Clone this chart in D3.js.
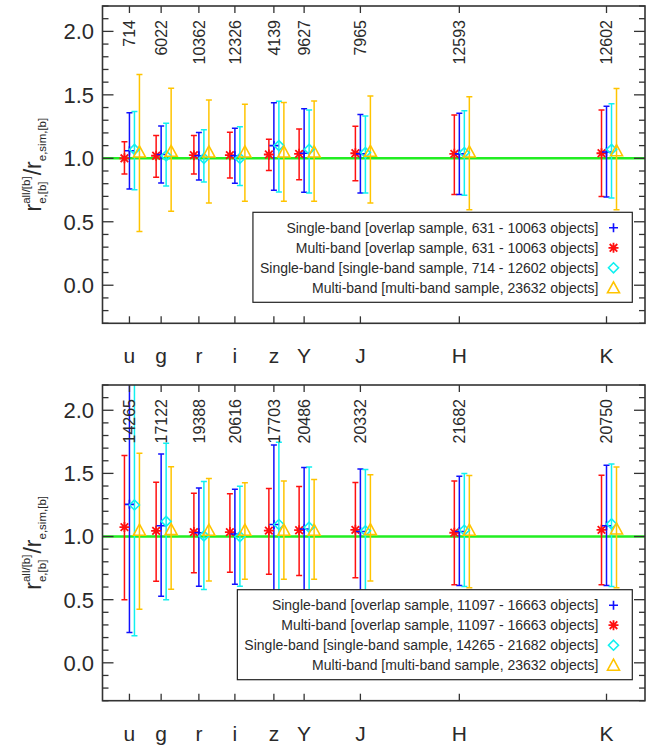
<!DOCTYPE html>
<html><head><meta charset="utf-8">
<script src="https://cdn.jsdelivr.net/npm/d3@7"></script>
<style>
html,body{margin:0;padding:0;background:#fff;}
svg text{font-family:"Liberation Sans",Arial,Helvetica,sans-serif;fill:#2a2a2a;}
</style></head>
<body><svg id="c" width="649" height="748"></svg>
<script>
// ---------- data ----------
const bands = ["u","g","r","i","z","Y","J","H","K"];
const wavelengths = [0.3543,0.4770,0.6231,0.7625,0.9134,1.0305,1.2483,1.6313,2.2010];
const yTickLabels = ["0.0","0.5","1.0","1.5","2.0"];
const yTickValues = [0,0.5,1.0,1.5,2.0];

const countsTop = ["714","6022","10362","12326","4139","9627","7965","12593","12602"];
const countsBot = ["14265","17122","19388","20616","17703","20486","20332","21682","20750"];

// top panel
const singleOverlapTop    = [1.06,1.03,1.02,1.02,1.10,1.04,1.035,1.035,1.05];
const singleOverlapTopLo  = [0.759,0.806,0.83,0.803,0.748,0.732,0.727,0.714,0.695];
const singleOverlapTopHi  = [1.358,1.255,1.203,1.237,1.437,1.39,1.345,1.355,1.41];
const multiOverlapTop     = [1.00,1.02,1.025,1.025,1.03,1.035,1.04,1.035,1.04];
const multiOverlapTopLo   = [0.877,0.85,0.877,0.845,0.903,0.832,0.824,0.714,0.70];
const multiOverlapTopHi   = [1.13,1.18,1.18,1.205,1.15,1.23,1.253,1.342,1.38];
const singleSampleTop     = [1.07,1.02,1.0,1.0,1.10,1.07,1.045,1.045,1.07];
const singleSampleTopLo   = [0.753,0.782,0.814,0.785,0.735,0.727,0.727,0.708,0.688];
const singleSampleTopHi   = [1.368,1.276,1.224,1.248,1.45,1.38,1.334,1.374,1.43];
const multiSample         = [1.05,1.055,1.05,1.05,1.05,1.05,1.055,1.05,1.06];
const multiSampleLo       = [0.424,0.582,0.648,0.661,0.661,0.661,0.648,0.595,0.595];
const multiSampleHi       = [1.66,1.552,1.46,1.426,1.44,1.452,1.49,1.484,1.55];

// bottom panel
const singleOverlapBot    = [1.255,1.085,1.03,1.02,1.095,1.06,1.04,1.04,1.085];
const singleOverlapBotLo  = [0.24,0.528,0.607,0.623,0.465,0.573,0.538,0.612,0.612];
const singleOverlapBotHi  = [2.35,1.654,1.385,1.374,1.725,1.546,1.535,1.477,1.564];
const multiOverlapBot     = [1.075,1.045,1.035,1.035,1.047,1.05,1.053,1.03,1.053];
const multiOverlapBotLo   = [0.5,0.646,0.713,0.718,0.702,0.691,0.673,0.618,0.618];
const multiOverlapBotHi   = [1.641,1.43,1.343,1.338,1.38,1.396,1.427,1.44,1.485];
const singleSampleBot     = [1.25,1.12,1.005,1.0,1.095,1.074,1.045,1.05,1.10];
const singleSampleBotLo   = [0.214,0.499,0.58,0.607,0.449,0.565,0.533,0.604,0.604];
const singleSampleBotHi   = [2.35,1.738,1.435,1.398,1.746,1.551,1.53,1.50,1.575];

const legendTop = ["Single-band [overlap sample, 631 - 10063 objects]",
                   "Multi-band [overlap sample, 631 - 10063 objects]",
                   "Single-band [single-band sample, 714 - 12602 objects]",
                   "Multi-band [multi-band sample, 23632 objects]"];
const legendBot = ["Single-band [overlap sample, 11097 - 16663 objects]",
                   "Multi-band [overlap sample, 11097 - 16663 objects]",
                   "Single-band [single-band sample, 14265 - 21682 objects]",
                   "Multi-band [multi-band sample, 23632 objects]"];

// ---------- styling ----------
const COLORS = {blue:"#1010ff", red:"#ff1010", cyan:"#10f0f0", gold:"#ffc400"};
const svg = d3.select("#c");
const xL = 102.5, xR = 645;
const x = d3.scaleLinear().domain([0.25,2.35]).range([xL,xR]);
const panels = [
  {top:6, bottom:323.3, counts:countsTop, legend:legendTop,
   series:[
    {key:"red",  sym:"star",  dx:-5, v:multiOverlapTop,  lo:multiOverlapTopLo,  hi:multiOverlapTopHi},
    {key:"blue", sym:"plus",  dx:0,  v:singleOverlapTop, lo:singleOverlapTopLo, hi:singleOverlapTopHi},
    {key:"cyan", sym:"diamond",dx:5, v:singleSampleTop,  lo:singleSampleTopLo,  hi:singleSampleTopHi},
    {key:"gold", sym:"tri",   dx:10, v:multiSample,      lo:multiSampleLo,      hi:multiSampleHi}]},
  {top:385, bottom:700.7, counts:countsBot, legend:legendBot,
   series:[
    {key:"red",  sym:"star",  dx:-5, v:multiOverlapBot,  lo:multiOverlapBotLo,  hi:multiOverlapBotHi},
    {key:"blue", sym:"plus",  dx:0,  v:singleOverlapBot, lo:singleOverlapBotLo, hi:singleOverlapBotHi},
    {key:"cyan", sym:"diamond",dx:5, v:singleSampleBot,  lo:singleSampleBotLo,  hi:singleSampleBotHi},
    {key:"gold", sym:"tri",   dx:10, v:multiSample,      lo:multiSampleLo,      hi:multiSampleHi}]}
];

function drawSymbol(g, sym, cx, cy, color){
  const s = g.append("g").attr("transform",`translate(${cx},${cy})`)
    .attr("fill","none").attr("stroke",color).attr("stroke-width",1.6);
  if(sym==="plus"){
    s.append("path").attr("d","M-4.5,0H4.5M0,-4.5V4.5");
  } else if(sym==="star"){
    s.append("path").attr("d","M0,-5V5M-5,0H5M-3.8,-3.8L3.8,3.8M-3.8,3.8L3.8,-3.8").attr("stroke-width",1.8);
  } else if(sym==="diamond"){
    s.append("path").attr("d","M0,-5L5,0L0,5L-5,0Z");
  } else if(sym==="tri"){
    s.append("path").attr("d","M0,-6L6,5H-6Z");
  }
}

panels.forEach((p,pi)=>{
  const y = d3.scaleLinear().domain([-0.3,2.2]).range([p.bottom,p.top]);
  const g = svg.append("g");
  const clipId = "clip"+pi;
  svg.append("clipPath").attr("id",clipId).append("rect")
    .attr("x",xL).attr("y",p.top).attr("width",xR-xL).attr("height",p.bottom-p.top);

  // reference line
  g.append("line").attr("x1",xL).attr("x2",xR).attr("y1",y(1)).attr("y2",y(1))
    .attr("stroke","#22ee22").attr("stroke-width",2.4);

  // error bars + symbols
  const data = g.append("g").attr("clip-path",`url(#${clipId})`);
  p.series.forEach(s=>{
    const col = COLORS[s.key];
    wavelengths.forEach((w,i)=>{
      const cx = x(w)+s.dx;
      const eb = data.append("g").attr("stroke",col).attr("stroke-width",1.5);
      eb.append("line").attr("x1",cx).attr("x2",cx).attr("y1",y(s.lo[i])).attr("y2",y(s.hi[i]));
      eb.append("line").attr("x1",cx-3).attr("x2",cx+3).attr("y1",y(s.lo[i])).attr("y2",y(s.lo[i]));
      eb.append("line").attr("x1",cx-3).attr("x2",cx+3).attr("y1",y(s.hi[i])).attr("y2",y(s.hi[i]));
    });
  });
  p.series.forEach(s=>{
    const col = COLORS[s.key];
    wavelengths.forEach((w,i)=>{ drawSymbol(data, s.sym, x(w)+s.dx, y(s.v[i]), col); });
  });

  // axes frame
  const axisCol = "#333";
  g.append("rect").attr("x",xL).attr("y",p.top).attr("width",xR-xL).attr("height",p.bottom-p.top)
    .attr("fill","none").attr("stroke",axisCol).attr("stroke-width",1.6);

  // y ticks left/right
  const minor = d3.range(-3,23).map(d=>d/10);
  minor.forEach(v=>{
    const isMajor = Math.abs(v*2-Math.round(v*2))<1e-6;
    const len = isMajor?11:6;
    g.append("line").attr("x1",xL).attr("x2",xL+len).attr("y1",y(v)).attr("y2",y(v))
      .attr("stroke",axisCol).attr("stroke-width",1.3);
    g.append("line").attr("x1",xR).attr("x2",xR-len).attr("y1",y(v)).attr("y2",y(v))
      .attr("stroke",axisCol).attr("stroke-width",1.3);
  });
  yTickValues.forEach((v,i)=>{
    g.append("text").attr("x",94).attr("y",y(v)).attr("dy","0.36em")
      .attr("text-anchor","end").attr("font-size",22).text(yTickLabels[i]);
  });

  // band ticks top/bottom + labels + counts
  wavelengths.forEach((w,i)=>{
    g.append("line").attr("x1",x(w)).attr("x2",x(w)).attr("y1",p.top).attr("y2",p.top+7)
      .attr("stroke",axisCol).attr("stroke-width",1.3);
    g.append("line").attr("x1",x(w)).attr("x2",x(w)).attr("y1",p.bottom).attr("y2",p.bottom-7)
      .attr("stroke",axisCol).attr("stroke-width",1.3);
    g.append("text").attr("x",x(w)).attr("y",p.bottom+40).attr("text-anchor","middle")
      .attr("font-size",21).text(bands[i]);
    g.append("text").attr("transform",`translate(${x(w)},${p.top+14}) rotate(-90)`)
      .attr("dy","0.36em").attr("text-anchor","end").attr("font-size",16).text(p.counts[i]);
  });

  // legend
  const lg = g.append("g");
  const rowY = [0,1,2,3].map(k=>p.bottom-95.5+20*k);
  const symsOrder = [["plus","blue"],["star","red"],["diamond","cyan"],["tri","gold"]];
  let minX = 1e9;
  p.legend.forEach((t,k)=>{
    const tx = lg.append("text").attr("x",598.5).attr("y",rowY[k]).attr("dy","0.36em")
      .attr("text-anchor","end").attr("font-size",14).text(t);
    const len = tx.node().getComputedTextLength();
    minX = Math.min(minX, 598.5-len);
    drawSymbol(lg, symsOrder[k][0], 613.5, rowY[k], COLORS[symsOrder[k][1]]);
  });
  lg.insert("rect",":first-child").attr("x",minX-7).attr("y",p.bottom-111)
    .attr("width",632.3-(minX-7)).attr("height",90)
    .attr("fill","#fff").attr("stroke","#222").attr("stroke-width",1.2);

  // y-axis title
  const cy = (p.top+p.bottom)/2;
  const tg = g.append("g").attr("transform",`translate(41,${cy}) rotate(-90)`);
  const inner = tg.append("g");
  let cur = 0;
  function put(txt,size,dy){
    const t = inner.append("text").attr("x",cur).attr("y",dy).attr("font-size",size).text(txt);
    return t.node().getComputedTextLength();
  }
  cur += put("r",23,0);
  const w1 = put("all/[b]",11.5,-11);
  const w2 = put("e,[b]",11.5,5);
  cur += Math.max(w1,w2)+1;
  cur += put("/",23,0);
  cur += put("r",23,0);
  cur += put("e,sim,[b]",11.5,5);
  inner.attr("transform",`translate(${-cur/2},0)`);
});
</script></body></html>
